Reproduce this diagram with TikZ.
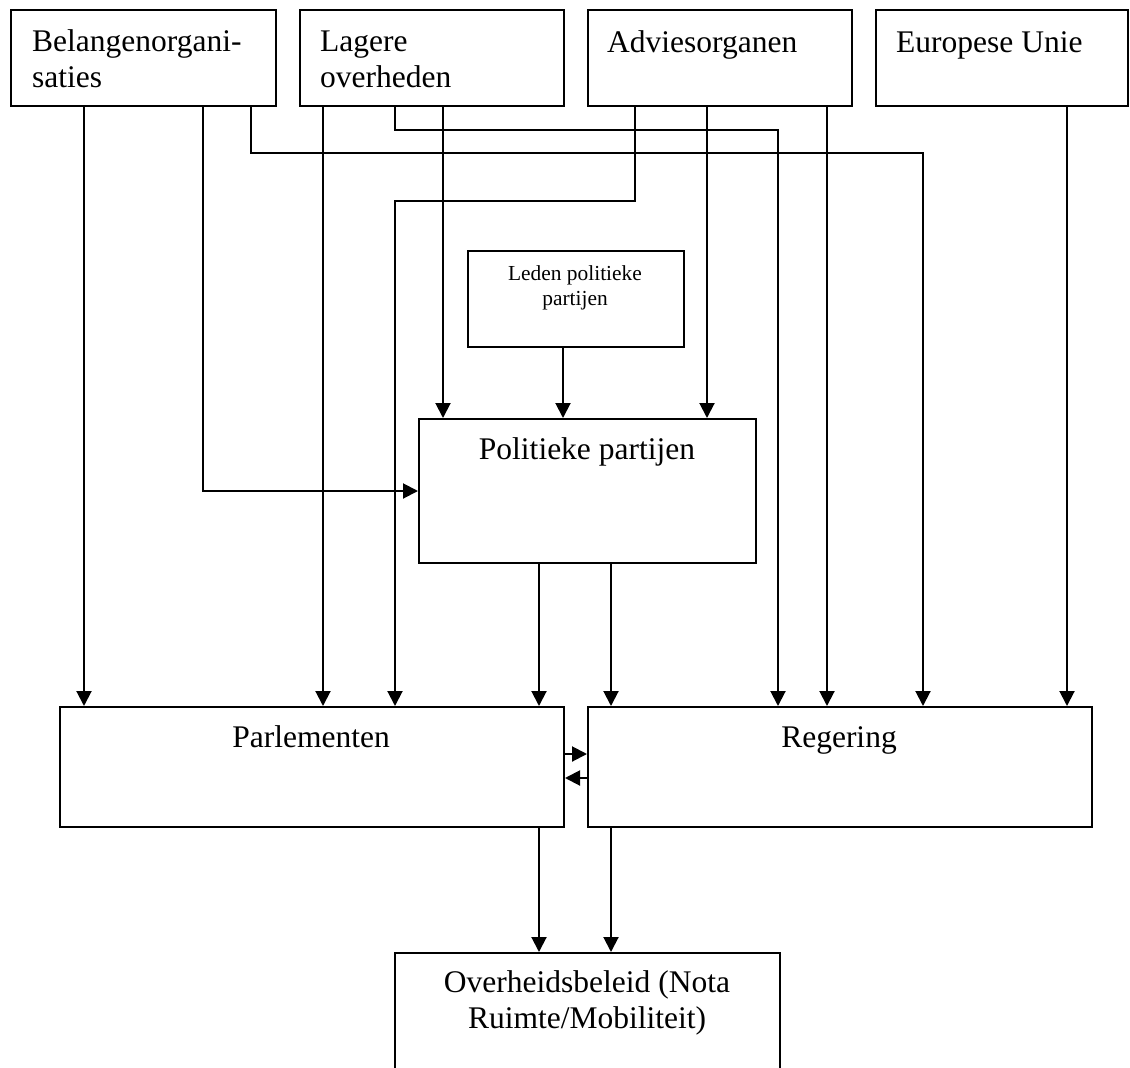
\documentclass[tikz,border=0pt]{standalone}
\usepackage{fontspec}
\setmainfont{Liberation Serif}
\usetikzlibrary{arrows.meta}
\tikzset{
  box/.style={draw, line width=2pt, inner sep=0pt, anchor=north west},
  lab/.style={inner sep=0pt, font=\fontsize{31.5}{36.2}\selectfont},
  smalllab/.style={inner sep=0pt, font=\fontsize{21.4}{25}\selectfont},
  conn/.style={line width=2pt, -{Triangle[length=15pt,width=15pt]}},
}
\begin{document}
\begin{tikzpicture}[x=1pt,y=-1pt]
\clip (0,0) rectangle (1130,1068);
\fill[white] (0,0) rectangle (1130,1068);
% boxes
\node[box, minimum width=265pt, minimum height=96pt] (bel) at (10,9) {};
\node[box, minimum width=264pt, minimum height=96pt] (lag) at (299,9) {};
\node[box, minimum width=264pt, minimum height=96pt] (adv) at (587,9) {};
\node[box, minimum width=252pt, minimum height=96pt] (eu) at (875,9) {};
\node[box, minimum width=216pt, minimum height=96pt] (led) at (467,250) {};
\node[box, minimum width=337pt, minimum height=144pt] (pol) at (418,418) {};
\node[box, minimum width=504pt, minimum height=120pt] (parl) at (59,706) {};
\node[box, minimum width=504pt, minimum height=120pt] (reg) at (587,706) {};
\node[box, minimum width=385pt, minimum height=140pt] (ovh) at (394,952) {};
% texts
\node[lab, anchor=base west] (belT) at (32,51) {\begin{tabular}[t]{@{}l@{}}Belangenorgani-\\saties\end{tabular}};
\node[lab, anchor=base west] (lagT) at (320,51) {\begin{tabular}[t]{@{}l@{}}Lagere\\overheden\end{tabular}};
\node[lab, anchor=base west] (advT) at (607,52) {Adviesorganen};
\node[lab, anchor=base west] (euT) at (896,52) {Europese Unie};
\node[smalllab, anchor=base] (ledT) at (575,280) {\begin{tabular}[t]{@{}c@{}}Leden politieke\\partijen\end{tabular}};
\node[lab, anchor=base] (polT) at (587,459) {Politieke partijen};
\node[lab, anchor=base] (parlT) at (311,747) {Parlementen};
\node[lab, anchor=base] (regT) at (839,747) {Regering};
\node[lab, anchor=base] (ovhT) at (587,992) {\begin{tabular}[t]{@{}c@{}}Overheidsbeleid (Nota\\Ruimte/Mobiliteit)\end{tabular}};
% connectors
\draw[conn] (84,0 |- bel.south) -- (84,0 |- parl.north);
\draw[conn] (203,0 |- bel.south) |- (pol.west);
\draw[conn] (251,0 |- bel.south) |- (923,153) -- (923,0 |- reg.north);
\draw[conn] (323,0 |- lag.south) -- (323,0 |- parl.north);
\draw[conn] (395,0 |- lag.south) |- (778,130) -- (778,0 |- reg.north);
\draw[conn] (443,0 |- lag.south) -- (443,0 |- pol.north);
\draw[conn] (635,0 |- adv.south) |- (395,201) -- (395,0 |- parl.north);
\draw[conn] (707,0 |- adv.south) -- (707,0 |- pol.north);
\draw[conn] (827,0 |- adv.south) -- (827,0 |- reg.north);
\draw[conn] (1067,0 |- eu.south) -- (1067,0 |- reg.north);
\draw[conn] (563,0 |- led.south) -- (563,0 |- pol.north);
\draw[conn] (539,0 |- pol.south) -- (539,0 |- parl.north);
\draw[conn] (611,0 |- pol.south) -- (611,0 |- reg.north);
\draw[conn] (parl.east |- 0,754) -- (reg.west |- 0,754);
\draw[conn] (reg.west |- 0,778) -- (parl.east |- 0,778);
\draw[conn] (539,0 |- parl.south) -- (539,0 |- ovh.north);
\draw[conn] (611,0 |- reg.south) -- (611,0 |- ovh.north);
\end{tikzpicture}
\end{document}
